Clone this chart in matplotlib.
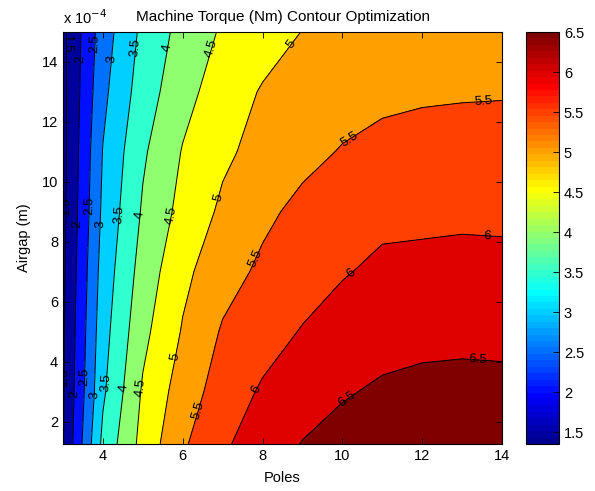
import numpy as np
import matplotlib
matplotlib.use("Agg")
import matplotlib.pyplot as plt
from matplotlib.colors import ListedColormap, Normalize
from matplotlib.cm import ScalarMappable

# Grid (poles x airgap), torque in Nm
poles = [3, 4, 5, 6, 7, 8, 9, 10, 11, 12, 13, 14]
airgap_e4 = [1.25, 3, 5, 7, 9, 11, 13, 15]  # x 1e-4 m

torque = [
    [1.47, 3.63, 4.67, 5.43, 5.93, 6.24, 6.52, 6.65, 6.72, 6.78, 6.80, 6.79],
    [1.45, 3.42, 4.56, 5.24, 5.73, 6.06, 6.26, 6.46, 6.56, 6.61, 6.62, 6.61],
    [1.43, 3.31, 4.37, 5.04, 5.55, 5.80, 6.03, 6.23, 6.34, 6.38, 6.40, 6.39],
    [1.40, 3.21, 4.21, 4.88, 5.31, 5.59, 5.78, 5.96, 6.11, 6.13, 6.15, 6.14],
    [1.37, 3.10, 4.06, 4.66, 5.09, 5.40, 5.62, 5.76, 5.87, 5.89, 5.91, 5.90],
    [1.355, 3.02, 3.93, 4.53, 4.91, 5.16, 5.37, 5.53, 5.64, 5.67, 5.68, 5.68],
    [1.36, 2.88, 3.75, 4.33, 4.75, 5.04, 5.21, 5.31, 5.39, 5.44, 5.46, 5.47],
    [1.38, 2.76, 3.62, 4.17, 4.56, 4.79, 5.01, 5.08, 5.14, 5.19, 5.23, 5.26],
]

levels = [1.5, 2.0, 2.5, 3.0, 3.5, 4.0, 4.5, 5.0, 5.5, 6.0, 6.5]
xticks = [4, 6, 8, 10, 12, 14]
yticks_e4 = [2, 4, 6, 8, 10, 12, 14]
cbar_ticks = [1.5, 2, 2.5, 3, 3.5, 4, 4.5, 5, 5.5, 6, 6.5]

# where the inline labels sit (poles, airgap x1e-4), per contour level
label_spots = {
    1.5: [(3.10, 14.6), (3.08, 9.2), (3.03, 3.5)],
    2.0: [(3.43, 14.1), (3.33, 8.6), (3.25, 2.9)],
    2.5: [(3.75, 14.6), (3.60, 9.2), (3.48, 3.5)],
    3.0: [(4.20, 14.1), (3.93, 8.6), (3.73, 2.9)],
    3.5: [(4.78, 14.47), (4.35, 8.9), (4.03, 3.3)],
    4.0: [(5.58, 14.47), (4.90, 8.9), (4.48, 3.13)],
    4.5: [(6.66, 14.47), (5.66, 8.9), (4.95, 3.13)],
    5.0: [(8.74, 14.57), (6.81, 9.5), (5.81, 4.17)],
    5.5: [(13.53, 12.5), (10.19, 11.4), (7.76, 7.47), (6.36, 2.4)],
    6.0: [(13.63, 8.13), (10.19, 7.0), (7.76, 3.13)],
    6.5: [(13.4, 4.07), (10.12, 2.77)],
}


def matlab_jet(m=64):
    n = int(np.ceil(m / 4))
    u = np.concatenate([np.arange(1, n + 1) / n, np.ones(n - 1), np.arange(n, 0, -1) / n])
    g = int(np.ceil(n / 2)) - (1 if m % 4 == 1 else 0) + np.arange(1, len(u) + 1)
    r = g + n
    b = g - n
    J = np.zeros((m, 3))
    J[r[r <= m] - 1, 0] = u[r <= m]
    J[g[g <= m] - 1, 1] = u[g <= m]
    J[b[b >= 1] - 1, 2] = u[b >= 1]
    return ListedColormap(J)


plt.rcParams['font.family'] = ['Liberation Sans', 'DejaVu Sans']

X, Y = np.meshgrid(np.array(poles, float), np.array(airgap_e4) * 1e-4)
Z = np.array(torque)
zmin, zmax = Z.min(), Z.max()

jet = matlab_jet(64)
norm = Normalize(vmin=zmin, vmax=levels[-1])
fill_levels = [zmin] + levels + [zmax + 1e-6]
band_colors = [jet(norm(v)) for v in [zmin] + levels]

fig = plt.figure(figsize=(5.95, 4.91), dpi=100)
ax = fig.add_axes([63 / 595, 47 / 491, 439 / 595, 412 / 491])
cax = fig.add_axes([526 / 595, 47 / 491, 33 / 595, 412 / 491])

ax.set_xlim(3, 14)
ax.set_ylim(airgap_e4[0] * 1e-4, airgap_e4[-1] * 1e-4)

ax.contourf(X, Y, Z, levels=fill_levels, colors=band_colors)

# one contour set per level, so each gets its own labels
for lev, spots in label_spots.items():
    cs = ax.contour(X, Y, Z, levels=[lev], colors='k', linewidths=0.7)
    pts = [(px, py * 1e-4) for px, py in spots]
    ax.clabel(cs, manual=pts, inline=False, fontsize=9.5,
              colors='k', fmt=lambda v: f'{v:g}')

ax.set_xticks(xticks)
ax.set_xticklabels([str(t) for t in xticks])
ax.set_yticks([t * 1e-4 for t in yticks_e4])
ax.set_yticklabels([str(t) for t in yticks_e4])
ax.tick_params(direction='in', top=True, right=True, length=4, width=0.6, labelsize=10.5)
for sp in ax.spines.values():
    sp.set_linewidth(0.8)

ax.set_title('Machine Torque (Nm) Contour Optimization', fontsize=11, pad=8)
ax.set_xlabel('Poles', fontsize=10.5, labelpad=6)
ax.set_ylabel('Airgap (m)', fontsize=10.5, labelpad=8)
ax.text(0.0, 1.012, r'x 10$^{-4}$', transform=ax.transAxes, ha='left', va='bottom', fontsize=10.5)

sm = ScalarMappable(norm=norm, cmap=jet)
cb = fig.colorbar(sm, cax=cax, ticks=cbar_ticks)
cb.ax.set_yticklabels([f'{t:g}' for t in cbar_ticks])
cb.ax.tick_params(direction='in', length=4, width=0.6, labelsize=10.5)
cb.outline.set_linewidth(0.8)

fig.savefig('out.png', dpi=100)
